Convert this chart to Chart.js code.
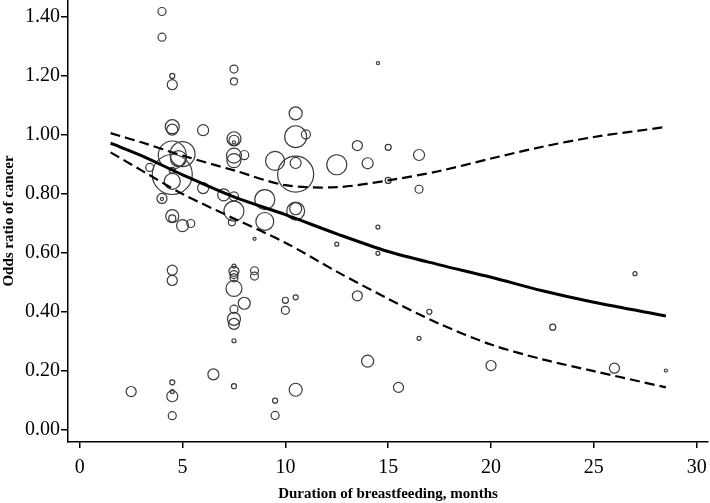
<!DOCTYPE html>
<html>
<head>
<meta charset="utf-8">
<title>Odds ratio of cancer by duration of breastfeeding</title>
<script src="https://cdn.jsdelivr.net/npm/chart.js@4.4.1/dist/chart.umd.min.js"></script>
<style>
  html, body { margin: 0; padding: 0; background: #fff; }
  #wrap { width: 710px; height: 503px; }
</style>
</head>
<body>
<div id="wrap"><canvas id="chart" width="710" height="503"></canvas></div>
<script>
// study estimates: duration (months), odds ratio, relative study weight
var studyMonths = [
  4.0, 4.0, 4.5, 4.5, 7.5, 7.5, 10.5, 10.5, 11.0, 13.5,
  4.5, 4.5, 6.0, 7.5, 7.5, 7.5, 8.0, 7.5, 7.5, 9.5,
  10.5, 10.5, 12.5, 3.4, 4.5, 5.0, 4.8, 4.5, 4.5, 4.5,
  4.0, 4.0, 6.0, 7.0, 7.5, 9.0, 7.5, 9.0, 10.5, 10.5,
  4.5, 4.5, 5.0, 5.4, 7.4, 8.5, 12.5, 14.5, 15.0, 16.5,
  14.0, 15.0, 16.5, 14.5, 14.5, 13.5, 17.0, 16.5, 14.0, 15.5,
  20.0, 23.0, 27.0, 26.0, 28.5, 4.5, 4.5, 7.5, 7.5, 7.5,
  7.5, 7.5, 8.5, 8.5, 8.0, 7.5, 7.5, 7.5, 7.5, 10.0,
  10.0, 10.5, 2.5, 4.5, 4.5, 4.5, 4.5, 6.5, 7.5, 9.5,
  9.5, 10.5
];
var studyOR = [
  1.418, 1.331, 1.200, 1.170, 1.223, 1.181, 1.073, 0.994, 1.002, 0.964,
  1.028, 1.018, 1.016, 0.987, 0.982, 0.975, 0.932, 0.930, 0.913, 0.912,
  0.905, 0.867, 0.899, 0.890, 0.932, 0.935, 0.920, 0.866, 0.843, 0.880,
  0.785, 0.783, 0.820, 0.797, 0.792, 0.781, 0.742, 0.707, 0.742, 0.750,
  0.725, 0.717, 0.693, 0.700, 0.704, 0.648, 0.630, 1.243, 0.958, 0.932,
  0.904, 0.846, 0.816, 0.688, 0.599, 0.455, 0.401, 0.311, 0.234, 0.145,
  0.219, 0.349, 0.530, 0.210, 0.202, 0.542, 0.507, 0.556, 0.538, 0.527,
  0.516, 0.480, 0.540, 0.522, 0.430, 0.410, 0.377, 0.360, 0.303, 0.440,
  0.406, 0.450, 0.131, 0.162, 0.131, 0.115, 0.049, 0.189, 0.149, 0.100,
  0.050, 0.137
];
var studyWeight = [
  4, 4, 1.6, 6.3, 4, 3.1, 10.6, 30, 5.1, 6.3,
  12.3, 7.6, 7.6, 12.3, 6.3, 0.6, 5.1, 14, 12.3, 22.6,
  7.6, 81, 25, 4, 49, 39, 16, 100, 16, 2.3,
  6.3, 0.6, 7.6, 9, 5.1, 25, 25, 20, 20, 9,
  10.6, 3.1, 9, 4, 3.1, 0.6, 1, 0.6, 2.3, 7.6,
  7.6, 2.3, 4, 1, 1, 6.3, 1.6, 1, 9, 6.3,
  6.3, 2.3, 1, 6.3, 0.6, 6.3, 6.3, 1, 6.3, 4,
  4, 16, 4, 4, 9, 4, 10.6, 7.6, 1, 2.3,
  4, 1.6, 6.3, 1.6, 1, 7.6, 4, 7.6, 1.6, 1.6,
  4, 10.6
];

// fitted dose-response curve with 95% confidence band
var curveMonths = [1.5, 3, 5, 7.5, 10, 12.5, 15, 17.5, 20, 22.5, 25, 28.5];
var fittedOR    = [0.972, 0.93, 0.865, 0.79, 0.73, 0.665, 0.605, 0.56, 0.518, 0.472, 0.433, 0.387];
var upperCI     = [1.006, 0.975, 0.93, 0.88, 0.83, 0.823, 0.846, 0.878, 0.92, 0.96, 0.993, 1.027];
var lowerCI     = [0.941, 0.88, 0.80, 0.717, 0.635, 0.537, 0.445, 0.36, 0.29, 0.24, 0.20, 0.145];

var xTickValues = [0, 5, 10, 15, 20, 25, 30];
var xTickLabels = ["0", "5", "10", "15", "20", "25", "30"];
var yTickValues = [0, 0.2, 0.4, 0.6, 0.8, 1.0, 1.2, 1.4];
var yTickLabels = ["0.00", "0.20", "0.40", "0.60", "0.80", "1.00", "1.20", "1.40"];

var serif = "'Liberation Serif', 'Times New Roman', serif";

function points(xs, ys) {
  return xs.map(function (x, i) { return { x: x, y: ys[i] }; });
}

var bubbles = studyMonths.map(function (m, i) {
  return { x: m, y: studyOR[i], r: 2 * Math.sqrt(studyWeight[i]) };
});

function setTicks(values) {
  return function (axis) {
    axis.ticks = values.map(function (v) { return { value: v }; });
  };
}

function labelFor(values, labels) {
  return function (value) {
    var i = values.findIndex(function (v) { return Math.abs(v - value) < 1e-9; });
    return i >= 0 ? labels[i] : "";
  };
}

// pin the axis boxes so the plot area fills the frame like the original
function pinAxis(size, key) {
  return function (scale) {
    scale[key] = size;
    scale.paddingTop = 0;
    scale.paddingBottom = 0;
    scale.paddingLeft = 0;
    scale.paddingRight = 0;
  };
}

Chart.defaults.font.family = serif;
Chart.defaults.color = "#000";

new Chart(document.getElementById("chart"), {
  type: "bubble",
  data: {
    datasets: [
      {
        type: "line",
        label: "Fitted",
        data: points(curveMonths, fittedOR),
        borderColor: "#000",
        borderWidth: 3,
        pointRadius: 0,
        tension: 0.3,
        fill: false,
        order: 0
      },
      {
        type: "line",
        label: "Upper 95% CI",
        data: points(curveMonths, upperCI),
        borderColor: "#000",
        borderWidth: 2.2,
        borderDash: [10, 5],
        pointRadius: 0,
        tension: 0.3,
        fill: false,
        order: 0
      },
      {
        type: "line",
        label: "Lower 95% CI",
        data: points(curveMonths, lowerCI),
        borderColor: "#000",
        borderWidth: 2.2,
        borderDash: [10, 5],
        pointRadius: 0,
        tension: 0.3,
        fill: false,
        order: 0
      },
      {
        label: "Studies",
        data: bubbles,
        backgroundColor: "rgba(0,0,0,0)",
        borderColor: "#3a3a3a",
        borderWidth: 1.2,
        hoverRadius: 0,
        order: 1
      }
    ]
  },
  options: {
    responsive: false,
    animation: false,
    layout: { autoPadding: false, padding: { top: 0, right: 2, bottom: 0, left: 0 } },
    plugins: {
      legend: { display: false },
      tooltip: { enabled: false }
    },
    scales: {
      x: {
        type: "linear",
        min: -0.57,
        max: 30.55,
        afterBuildTicks: setTicks(xTickValues),
        afterFit: pinAxis(61, "height"),
        border: { display: true, color: "#000", width: 1.5 },
        grid: { display: true, drawOnChartArea: false, drawTicks: true, tickLength: 6, color: "#000", lineWidth: 1.5 },
        ticks: {
          autoSkip: false,
          maxRotation: 0,
          padding: 8,
          font: { size: 20, family: serif },
          callback: labelFor(xTickValues, xTickLabels)
        },
        title: {
          display: true,
          text: "Duration of breastfeeding, months",
          font: { size: 15, weight: "bold", family: serif },
          padding: { top: 0, bottom: 0 }
        }
      },
      y: {
        type: "linear",
        min: -0.04,
        max: 1.457,
        afterBuildTicks: setTicks(yTickValues),
        afterFit: pinAxis(68, "width"),
        border: { display: true, color: "#000", width: 1.5 },
        grid: { display: true, drawOnChartArea: false, drawTicks: true, tickLength: 7, color: "#000", lineWidth: 1.5 },
        ticks: {
          autoSkip: false,
          padding: 1,
          font: { size: 20, family: serif },
          callback: labelFor(yTickValues, yTickLabels)
        },
        title: {
          display: true,
          text: "Odds ratio of cancer",
          font: { size: 15, weight: "bold", family: serif },
          padding: { top: 0, bottom: 0 }
        }
      }
    }
  }
});
</script>
</body>
</html>
